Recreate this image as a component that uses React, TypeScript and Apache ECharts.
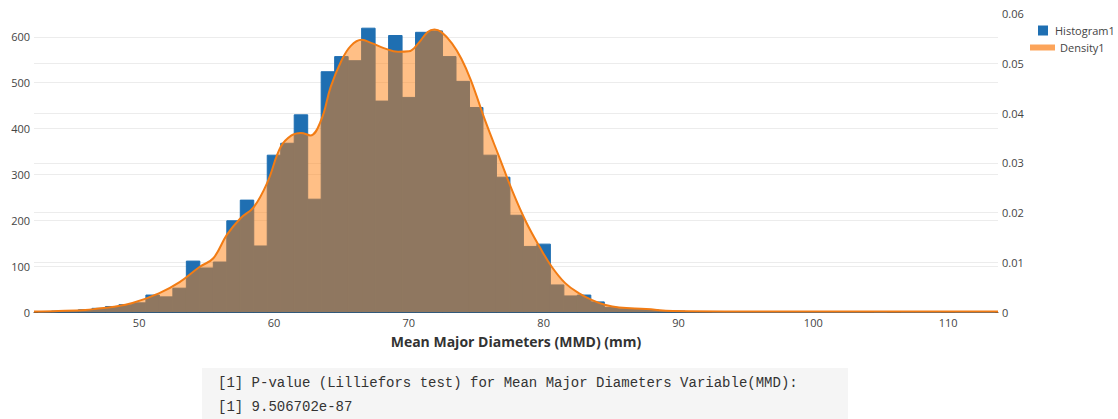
import React, { useEffect, useRef } from "react";
import * as echarts from "echarts";

// Histogram bins (centres, width 1 mm) and counts (left axis)
const binCenters = [
  43, 44, 45, 46, 47, 48, 49, 50, 51, 52, 53, 54, 55, 56, 57, 58, 59, 60, 61, 62,
  63, 64, 65, 66, 67, 68, 69, 70, 71, 72, 73, 74, 75, 76, 77, 78, 79, 80, 81, 82,
  83, 84, 85, 86, 87, 88, 89, 90, 91, 92, 93, 94, 95, 96, 97, 98, 99, 100, 101, 102,
  103, 104, 105, 106, 107, 108, 109, 110, 111, 112, 113,
];
const counts = [
  1, 2, 3, 5, 8, 12, 16, 20, 37, 33, 52, 111, 96, 109, 199, 244, 144, 342, 368, 430,
  246, 524, 557, 548, 619, 460, 603, 468, 610, 613, 557, 503, 446, 342, 294, 211, 143, 148, 59, 35,
  37, 22, 10, 7, 7, 5, 3, 2, 1, 1, 0, 0, 0, 0, 0, 0, 0, 0, 0, 0,
  0, 1, 0, 1, 0, 0, 0, 1, 0, 0, 0,
];

// Density curve (right axis)
const densityX = [
  42.2, 44, 46, 47, 48, 49.5, 51.5, 53, 54.5, 55.5, 56.5, 57.5, 58.5, 59.5, 60.5, 61.3,
  62, 62.7, 63.5, 64.2, 65, 65.7, 66.5, 67.2, 68.2, 69.2, 70, 70.7, 71.4, 71.9, 72.4,
  73.2, 73.9, 74.6, 75.7, 76.7, 77.7, 78.7, 79.7, 80.6, 81.6, 82.6, 83.6, 84.6, 85.6,
  87.6, 89.6, 95, 113.7,
];
const densityY = [
  0.0001, 0.0002, 0.0004, 0.0007, 0.001, 0.0018, 0.0038, 0.006, 0.0091, 0.0108, 0.0155,
  0.0188, 0.0211, 0.026, 0.0332, 0.0355, 0.036, 0.0355, 0.0386, 0.0452, 0.0505, 0.0535,
  0.0547, 0.0541, 0.053, 0.0523, 0.0524, 0.054, 0.0563, 0.0568, 0.0563, 0.054, 0.0509,
  0.0466, 0.0382, 0.0312, 0.0242, 0.0181, 0.0131, 0.0091, 0.0058, 0.0038, 0.0024,
  0.0014, 0.0009, 0.0006, 0.0002, 0.0001, 0.0001,
];

const xTickValues = [50, 60, 70, 80, 90, 100, 110];
const xTitle = "Mean Major Diameters (MMD) (mm)";
const outputLines = [
  "[1] P-value (Lilliefors test) for Mean Major Diameters Variable(MMD):",
  "[1] 9.506702e-87",
];

const FONT = "'Open Sans', sans-serif";
const BLUE = "#1f6fb2";

export default function App() {
  const ref = useRef<HTMLDivElement>(null);
  useEffect(() => {
    document.body.style.margin = "0";
    const chart = echarts.init(ref.current!, null, { renderer: "svg" });
    chart.setOption({
      animation: false,
      backgroundColor: "#ffffff",
      grid: { left: 34, right: 120, top: 13.5, bottom: 107 },
      legend: [
        {
          data: [{ name: "Histogram1", icon: "rect", itemStyle: { color: BLUE } }],
          left: 1033,
          top: 20,
          itemWidth: 10,
          itemHeight: 10,
          textStyle: { color: "#444", fontSize: 11, fontFamily: FONT, padding: [0, 0, 0, 2] },
        },
        {
          data: [{ name: "Density1", icon: "rect", itemStyle: { color: "#fca45a" } }],
          left: 1025,
          top: 37,
          itemWidth: 25,
          itemHeight: 6,
          textStyle: { color: "#444", fontSize: 11, fontFamily: FONT },
        },
      ],
      xAxis: {
        type: "value",
        min: 42.2,
        max: 113.7,
        axisLine: { show: true, onZero: false, lineStyle: { color: "#444", width: 1 } },
        axisTick: { show: false },
        splitLine: { show: false },
        axisLabel: {
          customValues: xTickValues,
          color: "#444",
          fontSize: 11,
          fontFamily: FONT,
          margin: 5,
        },
        name: xTitle,
        nameLocation: "middle",
        nameGap: 22,
        nameTextStyle: { color: "#333", fontSize: 14, fontWeight: "bold", fontFamily: FONT },
      },
      yAxis: [
        {
          type: "value",
          position: "left",
          min: 0,
          max: 651,
          interval: 100,
          axisLine: { show: false },
          axisTick: { show: false },
          axisLabel: { color: "#444", fontSize: 11, fontFamily: FONT, margin: 4, showMaxLabel: false },
          splitLine: { lineStyle: { color: "#ececec", width: 1 }, showMinLine: false, showMaxLine: false },
        },
        {
          type: "value",
          position: "right",
          min: 0,
          max: 0.06,
          interval: 0.01,
          axisLine: { show: false },
          axisTick: { show: false },
          axisLabel: {
            color: "#444",
            fontSize: 11,
            fontFamily: FONT,
            margin: 4,
            formatter: (v: number) => (v === 0 ? "0" : v.toFixed(2)),
          },
          splitLine: { lineStyle: { color: "#ececec", width: 1 }, showMinLine: false, showMaxLine: false },
        },
      ],
      series: [
        {
          type: "custom",
          name: "Histogram1",
          xAxisIndex: 0,
          yAxisIndex: 0,
          z: 1,
          encode: { x: 0, y: 1 },
          data: binCenters.map((c, i) => [c, counts[i]]),
          itemStyle: { color: BLUE },
          renderItem: (params: any, api: any) => {
            const c = api.value(0);
            const v = api.value(1);
            const p0 = api.coord([c - 0.5, v]);
            const p1 = api.coord([c + 0.5, 0]);
            return {
              type: "rect",
              shape: { x: p0[0], y: p0[1], width: p1[0] - p0[0], height: p1[1] - p0[1] },
              style: { fill: BLUE, stroke: BLUE, lineWidth: 1 },
            };
          },
        },
        {
          type: "line",
          name: "Density1",
          xAxisIndex: 0,
          yAxisIndex: 1,
          z: 3,
          smooth: 0.4,
          symbol: "none",
          data: densityX.map((x, i) => [x, densityY[i]]),
          lineStyle: { color: "#f27c14", width: 2 },
          itemStyle: { color: "#fca45a" },
          areaStyle: { color: "rgba(255,127,14,0.5)", opacity: 1 },
        },
      ],
      graphic: [
        {
          type: "rect",
          left: 202,
          top: 368,
          shape: { width: 646, height: 51 },
          style: { fill: "#f5f5f5" },
        },
        {
          type: "text",
          left: 218,
          top: 376,
          style: {
            text: outputLines[0],
            fill: "#333",
            font: "14px 'Liberation Mono', monospace",
          },
        },
        {
          type: "text",
          left: 218,
          top: 400,
          style: {
            text: outputLines[1],
            fill: "#333",
            font: "14px 'Liberation Mono', monospace",
          },
        },
      ],
    });
    return () => chart.dispose();
  }, []);
  return <div ref={ref} style={{ width: 1118, height: 419 }} />;
}
